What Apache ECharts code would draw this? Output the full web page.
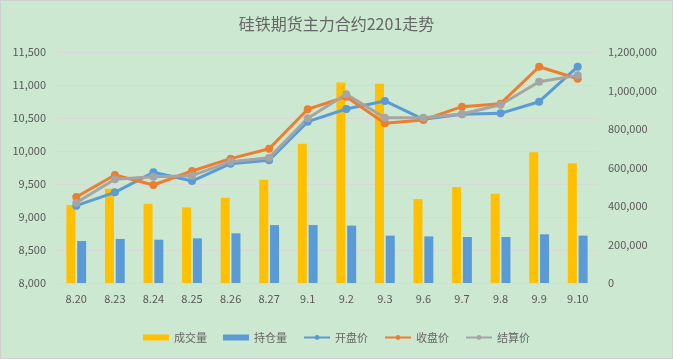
<!DOCTYPE html>
<html>
<head>
<meta charset="utf-8">
<script src="https://cdn.jsdelivr.net/npm/echarts@6/dist/echarts.min.js"></script>
<style>
html,body{margin:0;padding:0;background:#cde8d0;}
#c{width:673px;height:359px;box-sizing:border-box;border:1px solid #d0d0d0;}
</style>
</head>
<body>
<div id="c"></div>
<script>
const categories = ['8.20','8.23','8.24','8.25','8.26','8.27','9.1','9.2','9.3','9.6','9.7','9.8','9.9','9.10'];
const volume = [405000,490000,412000,393000,443000,537000,724000,1042000,1035000,436000,499000,464000,679000,622000];
const openInterest = [218000,229000,225000,232000,258000,301000,301000,298000,246000,242000,239000,239000,253000,246000];
const openPrice = [9172,9374,9677,9545,9808,9859,10444,10636,10758,10480,10556,10571,10747,11277];
const closePrice = [9303,9636,9485,9697,9884,10035,10632,10823,10419,10470,10672,10717,11277,11095];
const settlePrice = [9217,9571,9611,9626,9838,9899,10495,10859,10505,10505,10560,10702,11050,11146];
const leftTicks = {min:8000,max:11500,interval:500};
const rightTicks = {min:0,max:1200000,interval:200000};

const fmt = v => v.toLocaleString('en-US');
const chart = echarts.init(document.getElementById('c'));
const txt = '#595959';
const font = '"Noto Sans CJK SC", "Liberation Sans", sans-serif';
chart.setOption({
  backgroundColor:'#cde8d0',
  textStyle:{fontFamily:font},
  title:{text:'硅铁期货主力合约2201走势',left:'center',top:10,
    textStyle:{color:'#666',fontSize:16,fontWeight:'normal',fontFamily:font}},
  grid:{left:56,right:75,top:51,bottom:75},
  legend:{bottom:10,left:'center',itemWidth:26,itemHeight:6,itemGap:16,
    textStyle:{color:'#666',fontSize:11},
    data:[{name:'成交量',icon:'rect'},{name:'持仓量',icon:'rect'},'开盘价','收盘价','结算价']},
  xAxis:{type:'category',data:categories,
    axisLine:{lineStyle:{color:'#d9d9d9'}},axisTick:{show:false},
    axisLabel:{color:txt,fontSize:11,margin:10}},
  yAxis:[
    {type:'value',min:leftTicks.min,max:leftTicks.max,interval:leftTicks.interval,
     axisLabel:{color:txt,fontSize:11,formatter:fmt,margin:11},
     axisLine:{show:false},axisTick:{show:false},
     splitLine:{lineStyle:{color:'#d9d9d9'}}},
    {type:'value',min:rightTicks.min,max:rightTicks.max,interval:rightTicks.interval,
     axisLabel:{color:txt,fontSize:11,formatter:fmt,margin:11},
     axisLine:{show:false},axisTick:{show:false},splitLine:{show:false}}
  ],
  series:[
    {name:'成交量',type:'bar',yAxisIndex:1,data:volume,barWidth:9,barGap:'20%',itemStyle:{color:'#FFC000'}},
    {name:'持仓量',type:'bar',yAxisIndex:1,data:openInterest,barWidth:9,barGap:'20%',itemStyle:{color:'#5B9BD5'}},
    {name:'开盘价',type:'line',data:openPrice,symbol:'circle',symbolSize:8,
     lineStyle:{width:3,color:'#5B9BD5'},itemStyle:{color:'#5B9BD5'}},
    {name:'收盘价',type:'line',data:closePrice,symbol:'circle',symbolSize:8,
     lineStyle:{width:3,color:'#ED7D31'},itemStyle:{color:'#ED7D31'}},
    {name:'结算价',type:'line',data:settlePrice,symbol:'circle',symbolSize:8,
     lineStyle:{width:3,color:'#A5A5A5'},itemStyle:{color:'#A5A5A5'}}
  ]
});
</script>
</body>
</html>
